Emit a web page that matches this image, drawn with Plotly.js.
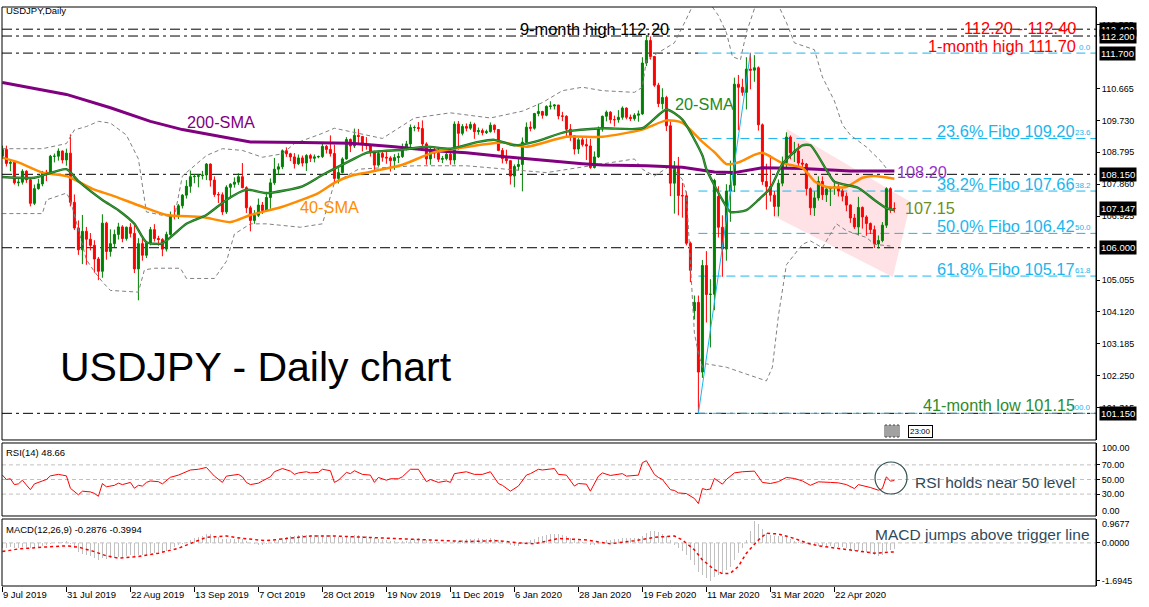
<!DOCTYPE html>
<html><head><meta charset="utf-8">
<script src="https://cdn.plot.ly/plotly-3.0.1.min.js"></script>
<style>html,body{margin:0;padding:0;background:#fff;}#chart{width:1149px;height:607px;}</style>
</head><body><div id="chart"></div>
<script>
// ---------- DATA ----------
const barOpen = [108.68,108.88,108.47,108.50,107.90,107.92,108.24,107.99,107.30,107.73,107.87,108.21,108.19,108.68,108.68,108.83,108.57,108.77,107.33,106.58,105.94,106.48,106.25,106.07,105.67,105.31,106.72,105.89,106.12,106.39,106.61,106.27,106.60,106.42,105.38,106.12,105.78,106.13,106.53,106.27,106.24,105.96,106.39,106.93,106.92,107.23,107.54,107.80,108.08,108.09,108.11,108.13,108.45,107.98,107.56,107.55,107.05,107.77,107.86,107.92,108.08,107.76,107.17,106.80,106.95,107.25,107.09,107.47,107.90,108.30,108.37,108.84,108.75,108.66,108.46,108.63,108.48,108.70,108.62,108.66,108.67,108.97,108.88,108.76,108.03,108.20,108.60,109.17,108.98,109.29,109.26,109.04,109.00,108.82,108.42,108.76,108.65,108.63,108.55,108.64,108.67,108.94,109.04,109.52,109.52,109.49,109.04,108.60,108.87,108.77,108.59,108.61,108.74,108.57,109.62,109.35,109.55,109.50,109.61,109.40,109.43,109.37,109.40,109.59,109.46,108.85,108.61,108.55,108.10,108.38,108.44,109.09,109.53,109.50,109.93,109.99,109.88,110.14,110.15,110.18,109.86,109.85,109.47,109.28,108.89,109.16,109.02,108.98,108.35,108.66,109.48,109.85,109.97,109.75,109.75,109.82,110.09,109.82,109.78,109.88,109.92,111.41,112.07,111.60,110.76,110.22,110.40,109.57,107.89,108.36,107.53,107.52,106.13,104.15,104.40,102.36,105.48,104.63,104.64,107.50,106.60,105.96,107.66,107.83,110.79,110.70,110.55,111.23,111.20,111.27,109.60,107.94,107.79,107.54,107.21,107.89,108.49,109.24,108.78,108.83,108.48,108.45,107.73,107.17,107.46,107.94,107.55,107.72,107.76,107.78,107.66,107.51,107.25,106.87,106.61,107.18,106.90,106.71,106.53,106.11,106.21,106.66,107.73,107.15];
const barHigh = [108.99,108.99,108.60,108.55,108.05,108.30,108.27,108.02,107.85,108.02,108.25,108.28,108.72,108.76,108.91,108.85,108.90,109.32,107.56,106.80,106.96,106.61,106.43,106.22,105.73,106.98,106.76,106.54,106.53,106.73,106.66,106.62,106.72,106.66,106.28,106.28,106.17,106.61,106.69,106.35,106.28,106.47,107.06,107.24,107.28,107.57,107.98,108.26,108.16,108.16,108.25,108.48,108.47,108.09,107.63,107.62,107.83,107.89,108.06,108.18,108.48,107.80,107.23,107.10,107.44,107.34,107.64,108.03,108.63,108.47,108.88,108.94,108.78,108.77,108.73,108.70,108.74,108.75,108.73,108.70,109.06,109.01,109.29,109.02,108.33,108.65,109.24,109.20,109.49,109.48,109.27,109.24,109.04,108.84,108.85,108.86,108.84,108.68,108.74,108.78,109.05,109.13,109.61,109.58,109.68,109.73,109.09,108.97,108.95,108.94,108.69,108.79,108.82,109.70,109.71,109.62,109.64,109.69,109.66,109.52,109.49,109.46,109.67,109.61,109.47,108.92,108.87,108.56,108.44,108.62,109.23,109.67,109.70,109.95,110.22,110.01,110.17,110.29,110.20,110.18,109.98,109.88,109.62,109.29,109.21,109.25,109.20,109.19,108.82,109.55,109.87,110.02,110.00,109.87,110.03,110.14,110.11,109.90,109.94,110.02,111.58,112.22,112.19,111.62,110.83,110.67,110.45,109.70,108.54,108.66,107.90,107.65,106.18,104.60,104.60,105.64,105.90,105.08,108.02,107.80,106.95,107.86,108.55,110.98,111.06,110.95,111.58,111.71,111.64,111.31,109.64,108.46,108.71,107.66,108.00,108.67,109.38,109.29,109.10,109.05,108.60,108.48,107.77,107.65,108.09,108.09,107.80,107.79,107.97,107.86,107.73,107.62,107.27,106.99,107.49,107.21,106.95,106.74,106.65,106.36,106.75,107.77,107.77,107.33];
const barLow = [108.60,108.38,108.24,107.85,107.80,107.85,107.90,107.21,107.25,107.70,107.80,107.95,108.15,108.50,108.55,108.47,108.40,107.21,106.52,105.79,105.52,105.50,105.92,105.27,105.05,105.12,105.65,105.74,106.02,106.24,106.16,106.21,106.30,105.26,104.46,105.62,105.70,106.07,106.18,106.06,105.75,105.89,106.35,106.83,106.84,107.15,107.44,107.61,107.89,107.77,108.00,107.98,107.79,107.49,107.31,106.96,106.99,107.48,107.76,107.84,107.74,107.02,106.48,106.70,106.90,106.99,107.06,107.14,107.84,108.13,108.30,108.66,108.54,108.32,108.42,108.38,108.25,108.51,108.50,108.62,108.63,108.76,108.67,107.89,107.88,108.18,108.58,108.80,108.92,109.07,108.82,108.87,108.67,108.24,108.37,108.52,108.46,108.23,108.28,108.48,108.63,108.85,108.95,109.41,109.40,108.96,108.43,108.43,108.62,108.51,108.48,108.56,108.43,108.44,108.87,109.29,109.41,109.45,109.19,109.31,109.29,109.33,109.37,109.37,108.83,108.47,108.46,107.85,107.77,108.26,107.65,109.05,109.41,109.46,109.85,109.78,109.85,110.05,110.05,109.76,109.71,109.26,109.13,108.73,108.75,108.96,108.57,108.31,108.32,108.63,109.40,109.70,109.64,109.55,109.66,109.75,109.76,109.71,109.72,109.69,109.89,111.32,111.51,110.71,110.12,110.05,109.42,107.51,107.00,106.95,106.88,106.07,104.99,103.90,101.18,102.19,103.81,103.08,104.17,106.30,105.15,105.62,106.76,107.63,109.44,110.45,110.05,110.64,110.86,109.43,107.84,107.12,107.35,106.92,106.92,107.80,108.33,108.59,108.51,108.36,108.30,107.53,106.96,106.93,107.38,107.40,107.34,107.22,107.55,107.50,107.36,107.07,106.73,106.55,106.36,106.56,106.35,106.40,105.99,105.98,106.16,106.58,107.02,107.03];
const barClose = [108.88,108.47,108.50,107.90,107.92,108.24,107.99,107.30,107.73,107.87,108.21,108.19,108.68,108.68,108.83,108.57,108.77,107.33,106.58,105.94,106.48,106.25,106.07,105.67,105.31,106.72,105.89,106.12,106.39,106.61,106.27,106.60,106.42,105.38,106.12,105.78,106.13,106.53,106.27,106.24,105.96,106.39,106.93,106.92,107.23,107.54,107.80,108.08,108.09,108.11,108.13,108.45,107.98,107.56,107.55,107.05,107.77,107.86,107.92,108.08,107.76,107.17,106.80,106.95,107.25,107.09,107.47,107.90,108.30,108.37,108.84,108.75,108.66,108.46,108.63,108.48,108.70,108.62,108.66,108.67,108.97,108.88,108.76,108.03,108.20,108.60,109.17,108.98,109.29,109.26,109.04,109.00,108.82,108.42,108.76,108.65,108.63,108.55,108.64,108.67,108.94,109.04,109.52,109.52,109.49,109.04,108.60,108.87,108.77,108.59,108.61,108.74,108.57,109.62,109.35,109.55,109.50,109.61,109.40,109.43,109.37,109.40,109.59,109.46,108.85,108.61,108.55,108.10,108.38,108.44,109.09,109.53,109.50,109.93,109.99,109.88,110.14,110.15,110.18,109.86,109.85,109.47,109.28,108.89,109.16,109.02,108.98,108.35,108.66,109.48,109.85,109.97,109.75,109.75,109.82,110.09,109.82,109.78,109.88,109.92,111.41,112.07,111.60,110.76,110.22,110.40,109.57,107.89,108.36,107.53,107.52,106.13,105.34,104.40,102.36,105.48,104.63,104.64,107.97,106.60,105.96,107.66,107.83,110.79,110.70,110.55,111.23,111.20,111.27,109.60,107.94,107.79,107.54,107.21,107.89,108.49,109.24,108.78,108.83,108.48,108.45,107.73,107.17,107.46,107.94,107.55,107.72,107.76,107.78,107.66,107.51,107.25,106.87,106.61,107.18,106.90,106.71,106.53,106.11,106.21,106.66,107.73,107.15,107.15];

const sma200Idx = [0,16,27,37,45,62,75,87,91,98,108,116,125,133,145,150,161,170,175,178,183,190,200,212,223];
const sma200Val = [110.84,110.49,110.10,109.70,109.46,109.10,109.08,109.06,109.02,108.96,108.84,108.78,108.67,108.58,108.46,108.42,108.40,108.36,108.28,108.22,108.20,108.34,108.32,108.25,108.25];
const sma40Idx = [0,4,10,16,23,27,35,41,50,57,62,70,79,83,87,91,100,108,116,125,131,141,150,160,166,170,175,178,181,184,188,190,195,200,203,206,211,215,218,223];
const sma40Val = [108.64,108.50,108.20,108.10,107.70,107.55,107.20,106.96,106.90,106.75,106.96,107.20,107.60,107.90,108.10,108.20,108.43,108.80,108.95,109.08,108.96,109.25,109.25,109.46,109.73,109.66,109.10,108.80,108.45,108.50,108.72,108.78,108.48,108.34,107.95,107.78,107.78,108.05,108.10,108.02];
const sma20Idx = [0,8,16,19,25,29,33,36,40,46,51,56,61,66,75,80,87,91,100,106,112,119,123,128,133,141,150,160,166,170,175,176,180,182,186,189,192,195,200,202,206,208,214,218,221,223];
const sma20Val = [108.07,108.05,108.30,107.95,107.40,107.10,106.70,106.16,106.13,106.70,106.96,107.40,107.70,107.60,107.80,108.13,108.55,108.78,108.87,108.96,108.90,109.10,109.16,109.00,109.10,109.40,109.50,109.50,110.05,109.75,108.70,108.30,107.40,107.05,107.10,107.40,107.75,108.45,109.00,109.00,108.28,107.93,107.75,107.40,107.16,107.10];
const bbUpIdx = [0,10,14,16,18,21,24,27,31,34,36,40,43,45,51,55,60,65,70,73,80,83,87,95,103,112,122,130,135,140,145,150,158,160,161,168,171,173,176,179,181,182.5,184.5,186,188,190,194,196,198,203,205,208,210,212,216,219.5,221.5];
const bbUpVal = [108.90,108.90,109.00,109.05,109.45,109.55,109.70,109.65,109.30,108.60,107.05,106.95,106.90,108.10,108.70,108.90,108.85,108.65,108.75,109.05,109.35,109.50,109.40,109.20,109.80,109.95,109.80,110.00,110.25,110.60,110.70,110.60,110.55,110.70,111.50,112.00,112.70,113.20,113.30,112.80,112.30,111.60,111.50,112.30,113.00,113.20,113.10,112.60,112.00,111.80,111.00,110.30,109.60,109.30,108.95,108.55,108.25];
const bbLoIdx = [0,10,11,16,17,21,23,25,27,34,35.5,38,44.5,46,53,56,58,62,66,74.5,80,83,89,103,116,126,136,147,158,160,163,167,170,171,172,173,174,175,176,181,186,191,192.5,194,196,198,200,202,205,208.5,211,216,218,222];
const bbLoVal = [107.00,107.00,107.40,107.60,107.40,105.65,105.30,105.00,104.75,104.70,105.35,105.40,105.40,105.10,105.10,105.60,106.40,106.70,106.70,106.60,106.70,107.90,108.30,108.40,108.40,108.30,108.20,108.40,108.60,108.30,108.10,108.40,108.00,107.60,105.50,103.50,102.90,102.50,102.60,102.50,102.30,102.10,102.50,104.00,105.50,105.80,106.10,106.20,106.00,106.70,106.50,106.30,106.10,106.05];

const rsiIdx = [0,1,2,3,4,5,7,8,10,11,12,14,15,16,17,18,19,20,22,23,24,25,26,28,29,30,32,33,34,35,36,37,39,40,42,44,46,47,49,51,53,55,56,59,60,61,62,64,65,67,68,70,72,73,74,76,77,79,80,82,83,84,86,87,88,90,92,93,94,96,97,99,100,102,104,106,107,109,111,112,113,116,118,120,122,124,125,127,129,131,132,134,135,137,138,139,141,143,144,146,147,149,150,152,155,156,159,160,161,163,164,165,167,168,169,171,173,174,175,176,177,178,179,180,181,183,185,188,190,192,194,196,198,200,202,204,207,209,211,213,214,216,217,219,220,221,222,223];
const rsiVal = [56,50,51,43,44,49,36,44,48,50,55,57,56,55,38,34,29,34,33,31,27,44.5,40,42,45,43,46,38,42,41,46,48,47,44,53,56,60.6,63,64,66.5,54.6,46,54.6,57,53.7,46,43,45,48,53.7,60.6,65,61.5,57,59,60.6,59,59.7,64,62,46,49,59.7,58,62,57,56,46,52.8,49,51,51,53.7,64,64,47,50,46,48,46,58,60.6,57,57,60.6,44.5,42,34,41,56,58,64,63,65,65,57,56,41,44.5,43.6,34,54.6,59,55.5,58,54.6,56,73,75.7,57,52.8,50,36,35,31.6,30.7,24,17,37.6,36,37,51.4,47,43.6,50,59,60.6,61.5,46,44.5,47,52.8,51.4,48,42,46.8,46,45.4,43,37.6,43,41,39,35.3,37.6,53.7,47.7,48.66];

const macdMain = [-0.22,-0.21,-0.20,-0.22,-0.22,-0.19,-0.18,-0.22,-0.20,-0.17,-0.13,-0.10,-0.04,0.00,0.04,0.05,0.07,
 -0.06,-0.22,-0.40,-0.48,-0.55,-0.60,-0.67,-0.75,
 -0.68,-0.70,-0.69,-0.66,-0.62,-0.61,-0.57,-0.55,-0.60,-0.56,-0.56,
 -0.52,-0.46,-0.43,-0.41,-0.41,-0.35,-0.26,-0.19,-0.11,-0.03,0.06,
 0.15,0.22,0.28,0.33,0.38,0.38,0.32,0.26,0.19,0.19,0.19,0.19,
 0.20,0.17,0.08,-0.02,-0.07,-0.08,-0.10,-0.07,0.00,0.08,
 0.14,0.23,0.28,0.31,0.32,0.34,0.34,0.35,0.34,0.34,0.34,
 0.36,0.36,0.35,0.30,0.26,0.26,0.30,0.31,0.34,0.34,0.32,0.30,0.27,0.21,0.18,0.15,0.12,0.09,0.07,0.06,
 0.07,0.09,0.14,0.18,0.20,0.18,0.12,0.09,0.06,0.03,0.01,0.00,-0.01,
 0.06,0.09,0.13,0.16,0.19,0.19,0.20,0.19,0.19,0.20,0.19,0.13,0.06,0.00,
 -0.09,-0.13,-0.14,-0.06,0.04,
 0.11,0.19,0.25,0.29,0.34,0.38,0.40,0.38,0.35,0.29,0.22,0.13,
 0.07,0.02,-0.02,-0.09,-0.11,-0.06,
 0.04,0.12,0.15,0.17,0.19,0.23,0.22,0.21,0.20,0.20,0.31,
 0.46,0.54,0.54,0.49,0.39,0.31,
 0.12,-0.08,-0.21,-0.38,-0.55,-0.76,-0.98,
 -1.30,-1.45,-1.58,-1.69,-1.51,-1.45,-1.40,
 -1.20,-1.10,-0.75,-0.45,-0.22,0.15,0.55,0.97,0.85,0.62,
 0.46,0.35,0.30,0.33,0.30,0.25,0.19,0.10,0.02,-0.04,
 -0.06,-0.10,-0.12,-0.12,-0.12,-0.13,-0.15,-0.17,-0.18,-0.20,
 -0.24,-0.30,-0.36,-0.35,-0.38,-0.42,-0.48,-0.55,-0.57,-0.52,-0.35,-0.31,-0.29];
const signalIdx = [0,4,10,16,19,23,26,29,34,39,44,48,51,56,60,66,72,77,83,91,99,108,116,124,129,133,139,146,152,158,163,168,170,173,175,178,180,182,184,186,189,191,194,198,201,204,209,214,218,223];
const signalVal = [-0.39,-0.27,-0.19,-0.13,-0.19,-0.39,-0.58,-0.68,-0.61,-0.46,-0.24,0.06,0.25,0.31,0.20,0.10,0.20,0.31,0.31,0.25,0.16,0.10,0.06,0.10,0.00,-0.04,0.20,0.13,-0.04,0.10,0.25,0.31,0.13,-0.31,-0.76,-1.20,-1.38,-1.36,-1.05,-0.46,0.13,0.43,0.40,0.20,0.00,-0.13,-0.24,-0.34,-0.46,-0.40];
const macdHeader = [-0.2876, -0.3994];
const rsiHeader = 48.66;

const dateLabels = ['9 Jul 2019','31 Jul 2019','22 Aug 2019','13 Sep 2019','7 Oct 2019','28 Oct 2019','19 Nov 2019','11 Dec 2019','6 Jan 2020','28 Jan 2020','19 Feb 2020','11 Mar 2020','31 Mar 2020','22 Apr 2020'];
const dateLabelBars = [0,16,32,48,64,80,96,112,128,144,160,176,192,208];
const priceTicks = [112.535,110.665,109.730,108.795,107.860,106.925,105.055,104.120,103.185,102.250,101.315];
const rsiTicks = [70,50,30];
const rsiEnds = [100,0];
const macdTicks = [0,-1.6945];
const macdTop = 0.9677;
const priceMarks = [112.400,112.200,111.700,108.150,107.147,106.000,101.150];
const blackLevels = [112.40,112.20,108.15,106.00,101.15];
const oneMonthHigh = 111.70;
const fiboLevels = [111.70,109.20,107.66,106.42,105.17,101.15];
const fiboPct = ['0.0','23.6','38.2','50.0','61.8','100.0'];
const fiboStartBar = 174, fiboEndBar = 187;
const channel = [[196.1,109.48],[227.1,107.34],[222.6,105.14],[193.3,106.90]];

// ---------- CHART ----------
const F = 'Liberation Sans, Arial, sans-serif';
const bars = barClose.map((_, i) => i);
const XR = [-0.1, 273.4];
const PX = x => (x - 2) / 1094;
const PY = y => (586 - y) / 579;

const traces = [
  {type:'candlestick', x:bars, open:barOpen, high:barHigh, low:barLow, close:barClose, xaxis:'x', yaxis:'y',
   increasing:{line:{color:'#008000',width:1}, fillcolor:'#008000'},
   decreasing:{line:{color:'#ff0000',width:1}, fillcolor:'#ff0000'}, whiskerwidth:0, hoverinfo:'skip', showlegend:false},
  {type:'scatter', mode:'lines', x:bbUpIdx, y:bbUpVal, yaxis:'y', line:{color:'#808080',width:1,dash:'4px,3px'}, hoverinfo:'skip'},
  {type:'scatter', mode:'lines', x:bbLoIdx, y:bbLoVal, yaxis:'y', line:{color:'#808080',width:1,dash:'4px,3px'}, hoverinfo:'skip'},
  {type:'scatter', mode:'lines', x:sma200Idx, y:sma200Val, yaxis:'y', line:{color:'#800080',width:3}, hoverinfo:'skip'},
  {type:'scatter', mode:'lines', x:sma40Idx, y:sma40Val, yaxis:'y', line:{color:'#ff8c00',width:2.5,shape:'spline',smoothing:0.6}, hoverinfo:'skip'},
  {type:'scatter', mode:'lines', x:sma20Idx, y:sma20Val, yaxis:'y', line:{color:'#1f6f1f',width:2.4,shape:'spline',smoothing:0.6}, hoverinfo:'skip'},
  {type:'scatter', mode:'lines', x:sma20Idx, y:sma20Val, yaxis:'y', line:{color:'#3cae3c',width:0.8,shape:'spline',smoothing:0.6}, hoverinfo:'skip'},
  {type:'scatter', mode:'lines', x:rsiIdx, y:rsiVal, yaxis:'y2', line:{color:'#ff0000',width:1}, hoverinfo:'skip'},
  {type:'bar', x:bars, y:macdMain, yaxis:'y3', width:0.45, marker:{color:'#c0c0c0', line:{width:0}}, hoverinfo:'skip'},
  {type:'scatter', mode:'lines', x:signalIdx, y:signalVal, yaxis:'y3', line:{color:'#ff0000',width:1.5,dash:'dot'}, hoverinfo:'skip'}
];

const shapes = [];
['y','y2','y3'].forEach(a => shapes.push({type:'rect', xref:'paper', yref:a+' domain', x0:0, x1:1, y0:0, y1:1, line:{color:'#000',width:1}, fillcolor:'rgba(0,0,0,0)', layer:'above'}));
shapes.push({type:'path', xref:'x', yref:'y', layer:'below', line:{width:0}, fillcolor:'rgba(255,182,193,0.4)',
  path:'M '+channel.map(p=>p[0]+','+p[1]).join(' L ')+' Z'});
blackLevels.forEach(v => shapes.push({type:'line', xref:'x', yref:'y', x0:XR[0], x1:XR[1], y0:v, y1:v, layer:'below', line:{color:'#000',width:1,dash:'10px,4px,3px,4px'}}));
shapes.push({type:'line', xref:'x', yref:'y', x0:XR[0], x1:fiboStartBar, y0:oneMonthHigh, y1:oneMonthHigh, layer:'below', line:{color:'#000',width:1,dash:'10px,4px,3px,4px'}});
fiboLevels.forEach(v => shapes.push({type:'line', xref:'x', yref:'y', x0:fiboStartBar, x1:XR[1], y0:v, y1:v, layer:'below', line:{color:'#1ab6ee',width:1,dash:'9px,5px'}}));
shapes.push({type:'line', xref:'x', yref:'y', x0:fiboStartBar, x1:fiboEndBar, y0:fiboLevels[5], y1:fiboLevels[0], layer:'above', line:{color:'#1ab6ee',width:1}});
rsiTicks.forEach(v => shapes.push({type:'line', xref:'paper', yref:'y2', x0:0, x1:1, y0:v, y1:v, layer:'below', line:{color:'#c0c0c0',width:1,dash:'4px,3px'}}));
shapes.push({type:'line', xref:'paper', yref:'y3', x0:0, x1:1, y0:0, y1:0, layer:'below', line:{color:'#c0c0c0',width:1,dash:'4px,3px'}});
shapes.push({type:'circle', xref:'paper', yref:'paper', x0:PX(875), x1:PX(907), y0:PY(494), y1:PY(462), line:{color:'#2f4f4f',width:1.2}});
[885,889,893,897].forEach(x => shapes.push({type:'rect', xref:'paper', yref:'paper', x0:PX(x), x1:PX(x+2), y0:PY(437), y1:PY(425), line:{color:'#444',width:1}, fillcolor:'#fff'}));

const ann = [];
function txt(text, x, y, size, color, anchor) {
  ann.push({text:text, x:PX(x), y:PY(y), xref:'paper', yref:'paper', xanchor:anchor||'left', yanchor:'middle', showarrow:false, font:{family:F, size:size, color:color}});
}
txt('USDJPY,Daily', 4, 11, 9.5, '#000');
txt('9-month high 112.20', 518, 29, 16.4, '#000');
txt('112.20 - 112.40', 1078, 28, 16.4, '#ff0000', 'right');
txt('1-month high 111.70', 1078, 46, 16.4, '#ff0000', 'right');
txt('200-SMA', 185, 122, 16.3, '#800080');
txt('40-SMA', 298, 207, 16.3, '#ff8c00');
txt('20-SMA', 673, 104, 16.3, '#228b22');
txt('108.20', 895, 172, 16.3, '#9932cc');
txt('107.15', 903, 208, 16.3, '#6b8e23');
txt('41-month low 101.15', 1077, 405, 16.3, '#2e8b2e', 'right');
txt('USDJPY - Daily chart', 58, 367, 41, '#000');
txt('RSI(14) ' + rsiHeader.toFixed(2), 4, 452, 9.5, '#000');
txt('RSI holds near 50 level', 913, 482, 15.5, '#2f4a5a');
txt('MACD(12,26,9) ' + macdHeader[0].toFixed(4) + ' ' + macdHeader[1].toFixed(4), 4, 529, 9.5, '#000');
txt('MACD jumps above trigger line', 873, 534, 15.5, '#2f4a5a');
// end labels of RSI / MACD scales (drawn inside their panel, like the reference)
txt(rsiEnds[0].toFixed(2), 1100, 448, 9, '#000');
txt(rsiEnds[1].toFixed(2), 1100, 511, 9, '#000');
txt(macdTop.toFixed(4), 1100, 524, 9, '#000');
fiboLevels.forEach((v, i) => {
  if (i > 0 && i < 5) ann.push({text: fiboPct[i] + '% Fibo ' + v.toFixed(2), x:PX(1077), xref:'paper', y:v, yref:'y', yshift:7, xanchor:'right', yanchor:'middle', showarrow:false, font:{family:F, size:16.4, color:'#1ab6ee'}});
  ann.push({text: fiboPct[i], x:PX(1093), xref:'paper', y:v, yref:'y', yshift:6, xanchor:'right', yanchor:'middle', showarrow:false, font:{family:F, size:8, color:'#1ab6ee'}});
});
priceMarks.forEach(v => ann.push({text: v.toFixed(3), x:1.0025, xref:'paper', y:v, yref:'y', xanchor:'left', yanchor:'middle', showarrow:false, bgcolor:'#000', borderpad:1, font:{family:F, size:9.5, color:'#fff'}}));
ann.push({text:'23:00', x:PX(920), y:PY(431), xref:'paper', yref:'paper', xanchor:'center', yanchor:'middle', showarrow:false, bgcolor:'#fff', bordercolor:'#000', borderwidth:1, borderpad:1, font:{family:F, size:8, color:'#000'}});

const yBase = {side:'right', anchor:'x', showgrid:false, zeroline:false, ticks:'outside', ticklen:3, tickcolor:'#000', showline:true, linecolor:'#000', linewidth:1, tickfont:{family:F, size:9, color:'#000'}, fixedrange:true};
const layout = {
  width:1149, height:607, margin:{l:2, r:53, t:7, b:21}, paper_bgcolor:'#fff', plot_bgcolor:'#fff', showlegend:false, dragmode:false,
  xaxis:{domain:[0,1], range:XR, anchor:'y3', showgrid:false, zeroline:false, showline:false, ticks:'outside', ticklen:5, tickcolor:'#000',
    tickvals:dateLabelBars, ticktext:dateLabels, ticklabelposition:'outside right', tickfont:{family:F, size:9.5, color:'#000'}, rangeslider:{visible:false}, fixedrange:true},
  yaxis:Object.assign({}, yBase, {domain:[0.2522,1], range:[100.37,113.05], tickvals:priceTicks, ticktext:priceTicks.map(v=>v.toFixed(3))}),
  yaxis2:Object.assign({}, yBase, {domain:[0.1209,0.2470], range:[0,100], tickvals:rsiTicks, ticktext:rsiTicks.map(v=>v.toFixed(2))}),
  yaxis3:Object.assign({}, yBase, {domain:[0,0.1157], range:[-1.93,1.07], tickvals:macdTicks, ticktext:macdTicks.map(v=>v.toFixed(4))}),
  shapes:shapes, annotations:ann, bargap:0
};
Plotly.newPlot('chart', traces, layout, {staticPlot:true, displayModeBar:false});
</script></body></html>
